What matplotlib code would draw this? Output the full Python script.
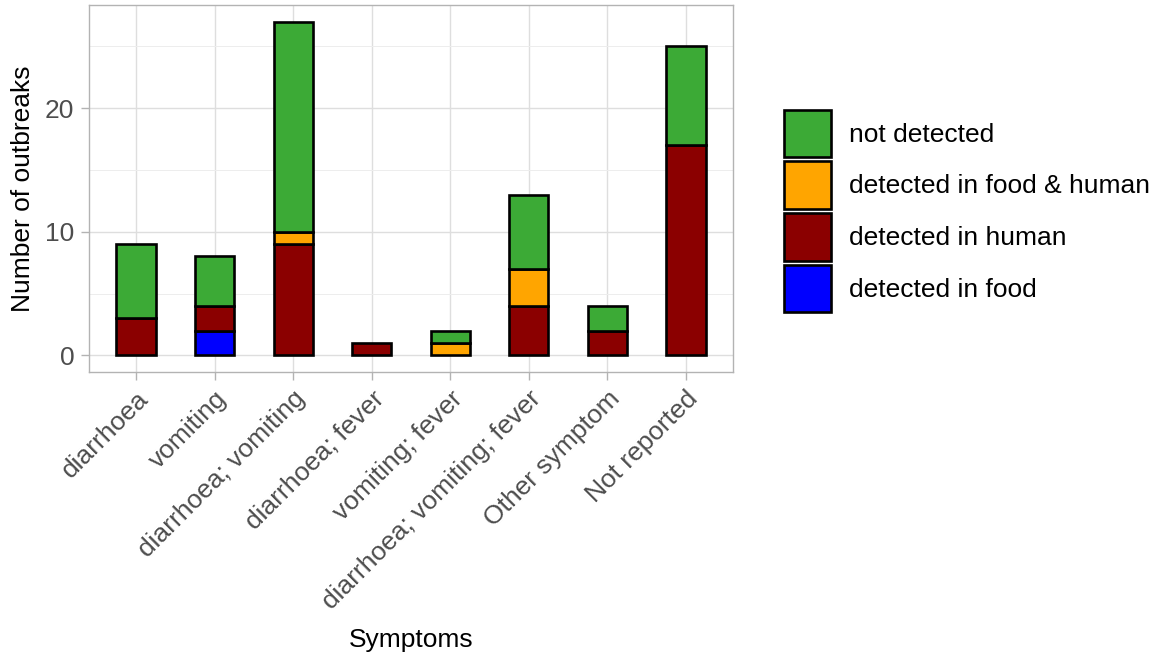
import matplotlib
matplotlib.use("Agg")
import matplotlib.pyplot as plt
import numpy as np
from matplotlib.patches import Patch

plt.rcParams['font.family'] = ['Liberation Sans', 'DejaVu Sans']

# data
symptoms = ['diarrhoea', 'vomiting', 'diarrhoea; vomiting', 'diarrhoea; fever',
            'vomiting; fever', 'diarrhoea; vomiting; fever', 'Other symptom', 'Not reported']
food = [0, 2, 0, 0, 0, 0, 0, 0]
human = [3, 2, 9, 1, 0, 4, 2, 17]
food_human = [0, 0, 1, 0, 1, 3, 0, 0]
not_detected = [6, 4, 17, 0, 1, 6, 2, 8]

series = [('detected in food', food, '#0000FF'),
          ('detected in human', human, '#8B0000'),
          ('detected in food & human', food_human, '#FFA500'),
          ('not detected', not_detected, '#3CAA36')]

fig = plt.figure(figsize=(11.58, 6.54), dpi=100)
ax = fig.add_axes([89/1158, 1-372/654, (733-89)/1158, (372-5)/654])

x = np.arange(1, len(symptoms) + 1)
bottom = np.zeros(len(symptoms))
for name, vals, col in series:
    vals = np.array(vals, dtype=float)
    mask = vals > 0
    ax.bar(x[mask], vals[mask], width=0.5, bottom=bottom[mask], color=col,
           edgecolor='black', linewidth=1.9, zorder=3)
    bottom += vals

ax.set_xlim(0.4, len(symptoms) + 0.6)
ax.set_ylim(-1.35, 28.35)
ax.set_yticks([0, 10, 20])
ax.set_yticks([5, 15, 25], minor=True)
ax.set_xticks(x)
ax.set_xticklabels(symptoms, rotation=45, ha='right', rotation_mode='anchor')

ax.grid(True, which='major', color='#DEDEDE', linewidth=1.0, zorder=0)
ax.grid(True, which='minor', axis='y', color='#EDEDED', linewidth=0.7, zorder=0)
ax.set_axisbelow(True)
for sp in ax.spines.values():
    sp.set_color('#B3B3B3')
    sp.set_linewidth(1.0)
ax.tick_params(which='major', colors='#B3B3B3', length=5.5, width=1.0,
               labelcolor='#4D4D4D', labelsize=19, pad=5)
ax.tick_params(which='minor', length=0)

ax.set_xlabel('Symptoms', fontsize=19, labelpad=10)
ax.set_ylabel('Number of outbreaks', fontsize=19, labelpad=7)

handles = [Patch(facecolor=col, edgecolor='black', linewidth=1.9, label=name)
           for name, vals, col in reversed(series)]
fig.legend(handles=handles, loc='center left', bbox_to_anchor=(784/1158, 1-211/654),
           frameon=False, fontsize=19, handlelength=1.78, handleheight=2.42,
           labelspacing=0.14, handletextpad=0.68, borderpad=0, borderaxespad=0)

fig.savefig('out.png', dpi=100)
